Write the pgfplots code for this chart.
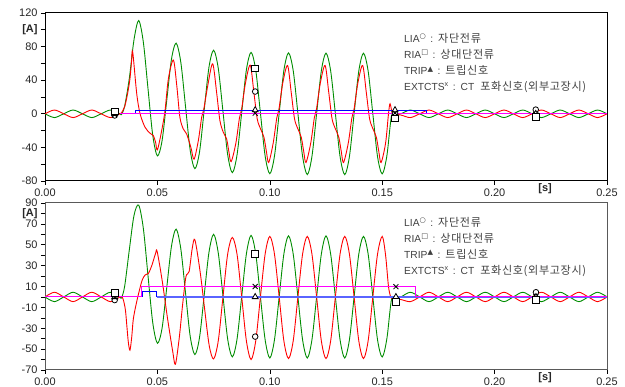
\documentclass[border=0pt]{standalone}
\usepackage{fontspec}
\setmainfont{Liberation Sans}
\newfontfamily\kr[Scale=1.08,LetterSpace=6]{Noto Sans CJK KR}
\newfontfamily\sym{DejaVu Sans}
\usepackage{pgfplots}
\pgfplotsset{compat=1.18}
\definecolor{cgreen}{RGB}{0,140,0}
\definecolor{cred}{RGB}{255,0,0}
\definecolor{cblue}{RGB}{0,0,255}
\definecolor{cmag}{RGB}{255,0,255}
\definecolor{cblue2}{RGB}{90,100,255}
\pgfplotsset{
 myax/.style={scale only axis, width=562bp, xmin=0, xmax=0.25,
  xtick={0,0.05,0.1,0.15,0.2,0.25}, xticklabels={0.00,0.05,0.10,0.15,0.20,0.25},
  extra x ticks={0.2225}, extra x tick labels={\textbf{[s]}},
  extra x tick style={major tick length=0pt, tick label style={yshift=1bp}},
  tick align=outside, tick pos=left, major tick length=4bp,
  tick style={line width=0.6bp, black},
  tick label style={font=\fontsize{11}{13}\selectfont, text=black!85},
  /pgf/number format/assume math mode=true,
 },
 sig/.style={line width=0.9bp, smooth, tension=0.5, no markers},
 mk/.style={only marks, mark options={solid, fill=white, draw=black, line width=0.8bp}},
}
\tikzset{legtxt/.style={anchor=base west, font=\fontsize{10.3}{12}\selectfont, text=black!75, inner sep=0pt}}
\newcommand{\lsep}{\hspace{4bp}:\hspace{5bp}}
\begin{document}
\begin{tikzpicture}
\useasboundingbox (-45bp,-17bp) rectangle (580bp,370bp);
% ---------------- top axis ----------------
\begin{axis}[myax, at={(0,189bp)}, anchor=south west, height=168bp,
  ymin=-80, ymax=120, ytick={-80,-60,...,120},
  yticklabels={-80,,-40,,0,,40,,80,\textbf{[A]},120},
  axis line style={line width=1bp, black}]
\addplot[sig, cgreen] coordinates {(0,0) (0.004167,-4.5) (0.008333,0) (0.0125,4.5) (0.016667,0) (0.020833,-4.5) (0.025,0) (0.029167,4.5) (0.033333,0) (0.034,-1)
 (0.03542,9) (0.0375,42) (0.03958,88) (0.04167,111) (0.04375,85.2) (0.04583,29.6) (0.04792,-25.4) (0.05,-50.1) (0.05208,-32) (0.05417,16.3) (0.05625,64.9)
 (0.05833,84.1) (0.06042,61.3) (0.0625,9) (0.06458,-43.2) (0.06667,-65.3) (0.06875,-45.2) (0.07083,4.9) (0.07292,55.2) (0.075,75.7) (0.07708,54.1)
 (0.07917,2.7) (0.08125,-48.5) (0.08333,-70) (0.08542,-49.1) (0.0875,1.5) (0.08958,52.2) (0.09167,73.1) (0.09375,51.9) (0.09583,0.9) (0.09792,-50.1)
 (0.1,-71.3) (0.10208,-50.3) (0.10417,0.6) (0.10625,51.4) (0.10833,72.5) (0.11042,51.3) (0.1125,0.4) (0.11458,-50.6) (0.11667,-72.3) (0.11875,-50.7)
 (0.12083,0.3) (0.12292,51.1) (0.125,72.2) (0.12708,51) (0.12917,0.2) (0.13125,-50.8) (0.13333,-72.4) (0.13542,-50.8) (0.1375,0.1) (0.13958,50.9)
 (0.14167,72.1) (0.14375,50.9) (0.14583,0) (0.14792,-50.9) (0.15,-71.5) (0.15208,-50) (0.15417,-2) (0.15625,-1)
 (0.15833,0) (0.1625,4.5) (0.16667,0) (0.17083,-4.5) (0.175,0) (0.17917,4.5) (0.18333,0) (0.1875,-4.5) (0.19167,0) (0.19583,4.5) (0.2,0) (0.20417,-4.5)
 (0.20833,0) (0.2125,4.5) (0.21667,0) (0.22083,-4.5) (0.225,0) (0.22917,4.5) (0.23333,0) (0.2375,-4.5) (0.24167,0) (0.24583,4.5) (0.25,0)};
\addplot[sig, cred] coordinates {(0,0) (0.004167,4.5) (0.008333,0) (0.0125,-4.5) (0.016667,0) (0.020833,4.5) (0.025,0) (0.029167,-4.5) (0.033333,0) (0.034,1)
 (0.0355,9) (0.0368,25) (0.0378,42) (0.0385,62) (0.039,74) (0.0408,24) (0.0423,0) (0.0445,-16) (0.0467,-23) (0.0482,-26) (0.0492,-34) (0.05,-43)
 (0.0519,-20) (0.0534,4) (0.0549,42) (0.0571,64) (0.0586,34) (0.06,-4) (0.0615,-18) (0.063,-24) (0.0649,-40) (0.0663,-54)
 (0.0682,-32) (0.0697,-4) (0.0706,5) (0.0725,35) (0.0746,59.5) (0.0764,24) (0.0778,-8) (0.0793,-22) (0.0808,-30) (0.0818,-45) (0.0828,-57)
 (0.0849,-35) (0.0865,-5) (0.0875,6) (0.0892,37) (0.0913,58) (0.0929,26) (0.0944,-6) (0.0959,-18) (0.0974,-28) (0.0985,-45) (0.0995,-58)
 (0.1015,-35) (0.1031,-5) (0.1041,6) (0.1058,37) (0.1079,57.5) (0.1095,26) (0.111,-6) (0.1125,-18) (0.114,-28) (0.1151,-45) (0.1161,-58)
 (0.1182,-35) (0.1198,-5) (0.1208,6) (0.1225,37) (0.1246,57.5) (0.1262,26) (0.1277,-6) (0.1292,-18) (0.1307,-28) (0.1318,-45) (0.1328,-58)
 (0.1349,-35) (0.1365,-5) (0.1375,6) (0.1392,37) (0.1413,57.5) (0.1429,26) (0.1444,-6) (0.1459,-18) (0.1474,-28) (0.1485,-45) (0.1495,-58)
 (0.1515,-35) (0.1528,0) (0.1535,12) (0.1545,0) (0.1555,-1) (0.15833,-1.5) (0.1625,-4.5) (0.16667,0) (0.17083,4.5) (0.175,0) (0.17917,-4.5)
 (0.18333,0) (0.1875,4.5) (0.19167,0) (0.19583,-4.5) (0.2,0) (0.20417,4.5) (0.20833,0) (0.2125,-4.5) (0.21667,0) (0.22083,4.5) (0.225,0)
 (0.22917,-4.5) (0.23333,0) (0.2375,4.5) (0.24167,0) (0.24583,-4.5) (0.25,0)};
\addplot[cblue, line width=0.9bp] coordinates {(0.0401,0) (0.0401,4.5) (0.1698,4.5) (0.1698,0) (0.25,0)};
\addplot[cmag, line width=0.9bp] coordinates {(0.0333,0) (0.25,0)};
\addplot[mk, mark=*, mark size=2.8bp] coordinates {(0.031,-2) (0.0935,26.5) (0.1557,0) (0.2183,5)};
\addplot[mk, mark=triangle*, mark size=3.4bp] coordinates {(0.031,0) (0.0935,4.5) (0.1557,4.5) (0.2183,0)};
\addplot[mk, mark=x, mark size=3.5bp] coordinates {(0.031,-1) (0.0935,0.7) (0.1557,1) (0.2183,-1)};
\addplot[mk, mark=square*, mark size=3.3bp] coordinates {(0.031,3) (0.0935,54) (0.1557,-5.5) (0.2183,-3.5)};
\node[legtxt] at (axis cs:0.1597,84.8) {LIA\textsuperscript{\sym ○}\lsep{\kr 자단전류}};
\node[legtxt] at (axis cs:0.1597,65.7) {RIA\textsuperscript{\sym □}\lsep{\kr 상대단전류}};
\node[legtxt] at (axis cs:0.1597,46.6) {TRIP\textsuperscript{\sym ▲}\lsep{\kr 트립신호}};
\node[legtxt] at (axis cs:0.1597,27.6) {EXTCTS\textsuperscript{x}\lsep CT\hspace{6bp}{\kr 포화신호(외부고장시)}};
\end{axis}
% ---------------- bottom axis ----------------
\begin{axis}[myax, at={(0,0)}, anchor=south west, height=167bp,
  ymin=-70, ymax=90, ytick={-70,-60,...,90},
  yticklabels={-70,,-50,,-30,,-10,,10,,30,,50,,70,\textbf{[A]},90},
  axis line style={line width=1bp, black!65}]
\addplot[sig, cgreen] coordinates {(0,0) (0.004167,-4.5) (0.008333,0) (0.0125,4.5) (0.016667,0) (0.020833,-4.5) (0.025,0) (0.029167,4.5) (0.033333,0) (0.034,-1)
 (0.03542,10) (0.0375,45) (0.03958,78) (0.04167,88) (0.04375,65.6) (0.04583,20.2) (0.04792,-24.5) (0.05,-44.4) (0.05208,-29.9) (0.05417,9.1) (0.05625,48.5)
 (0.05833,65) (0.06042,46) (0.0625,4.1) (0.06458,-37.6) (0.06667,-55.2) (0.06875,-38.7) (0.07083,1.9) (0.07292,42.5) (0.075,60) (0.07708,42)
 (0.07917,0.9) (0.08125,-40.3) (0.08333,-57.4) (0.08542,-40.5) (0.0875,0.3) (0.08958,41.2) (0.09167,59) (0.09375,41.1) (0.09583,0) (0.09792,-41)
 (0.1,-58.5) (0.10208,-41) (0.10417,0) (0.10625,41) (0.10833,58.5) (0.11042,41) (0.1125,0) (0.11458,-41) (0.11667,-58.5) (0.11875,-41)
 (0.12083,0) (0.12292,41) (0.125,58.5) (0.12708,41) (0.12917,0) (0.13125,-41) (0.13333,-58.5) (0.13542,-41) (0.1375,0) (0.13958,41)
 (0.14167,58) (0.14375,41) (0.14583,0) (0.14792,-41) (0.15,-57.5) (0.15208,-40) (0.15417,-2) (0.15625,-1)
 (0.15833,0) (0.1625,4.5) (0.16667,0) (0.17083,-4.5) (0.175,0) (0.17917,4.5) (0.18333,0) (0.1875,-4.5) (0.19167,0) (0.19583,4.5) (0.2,0) (0.20417,-4.5)
 (0.20833,0) (0.2125,4.5) (0.21667,0) (0.22083,-4.5) (0.225,0) (0.22917,4.5) (0.23333,0) (0.2375,-4.5) (0.24167,0) (0.24583,4.5) (0.25,0)};
\addplot[sig, cred] coordinates {(0,0) (0.004167,4.5) (0.008333,0) (0.0125,-4.5) (0.016667,0) (0.020833,4.5) (0.025,0) (0.029167,-4.5) (0.033333,0) (0.0342,0.5)
 (0.035,-4) (0.0358,-13) (0.0365,-30) (0.0371,-44) (0.0378,-51) (0.0386,-38) (0.0393,-21) (0.0408,-4.5) (0.043,14.6) (0.0445,21) (0.046,22.6)
 (0.0475,30) (0.0492,41.8) (0.0499,43.4) (0.0522,14.6) (0.0545,-20.5) (0.0568,-52) (0.058,-64.5) (0.0597,-39.6) (0.0612,-7.7) (0.0627,19.4)
 (0.0641,24.2) (0.0655,46.6) (0.0667,54.6) (0.069,24.2) (0.0708,-7.7) (0.073,-46) (0.075,-59.4)
 (0.07708,-42) (0.07917,0) (0.08125,41) (0.08333,57) (0.08542,41) (0.0875,0) (0.08958,-42) (0.09167,-60) (0.09375,-42) (0.09583,0) (0.09792,41)
 (0.1,58) (0.10208,41) (0.10417,0) (0.10625,-42) (0.10833,-59) (0.11042,-42) (0.1125,0) (0.11458,41) (0.11667,58) (0.11875,41) (0.12083,0)
 (0.12292,-42) (0.125,-59) (0.12708,-42) (0.12917,0) (0.13125,41) (0.13333,58) (0.13542,41) (0.1375,0) (0.13958,-42) (0.14167,-59) (0.14375,-42)
 (0.14583,0) (0.14792,41) (0.15,58) (0.1515,40) (0.1528,10) (0.1538,0) (0.1548,-1.5) (0.15833,-2.5) (0.1625,-4.5) (0.16667,0) (0.17083,4.5) (0.175,0) (0.17917,-4.5)
 (0.18333,0) (0.1875,4.5) (0.19167,0) (0.19583,-4.5) (0.2,0) (0.20417,4.5) (0.20833,0) (0.2125,-4.5) (0.21667,0) (0.22083,4.5) (0.225,0)
 (0.22917,-4.5) (0.23333,0) (0.2375,4.5) (0.24167,0) (0.24583,-4.5) (0.25,0)};
\addplot[cblue, line width=0.9bp] coordinates {(0.0435,0) (0.0435,5.5) (0.0497,5.5) (0.0497,0)};
\addplot[cblue2, line width=1.5bp] coordinates {(0.0497,0) (0.25,0)};
\addplot[cmag, line width=0.9bp] coordinates {(0,0) (0.043,0) (0.043,10) (0.165,10) (0.165,0) (0.25,0)};
\addplot[mk, mark=*, mark size=2.8bp] coordinates {(0.031,-3) (0.0935,-38) (0.1561,-2) (0.2184,4.5)};
\addplot[mk, mark=triangle*, mark size=3.4bp] coordinates {(0.031,0) (0.0935,0) (0.1561,0) (0.2184,0)};
\addplot[mk, mark=x, mark size=3.5bp] coordinates {(0.031,0) (0.0935,10) (0.1561,9.8) (0.2184,0)};
\addplot[mk, mark=square*, mark size=3.3bp] coordinates {(0.031,4) (0.0935,41) (0.1561,-4.5) (0.2184,-3)};
\node[legtxt] at (axis cs:0.1597,67.8) {LIA\textsuperscript{\sym ○}\lsep{\kr 자단전류}};
\node[legtxt] at (axis cs:0.1597,52.2) {RIA\textsuperscript{\sym □}\lsep{\kr 상대단전류}};
\node[legtxt] at (axis cs:0.1597,36.8) {TRIP\textsuperscript{\sym ▲}\lsep{\kr 트립신호}};
\node[legtxt] at (axis cs:0.1597,21.5) {EXTCTS\textsuperscript{x}\lsep CT\hspace{6bp}{\kr 포화신호(외부고장시)}};
\end{axis}
\end{tikzpicture}
\end{document}
